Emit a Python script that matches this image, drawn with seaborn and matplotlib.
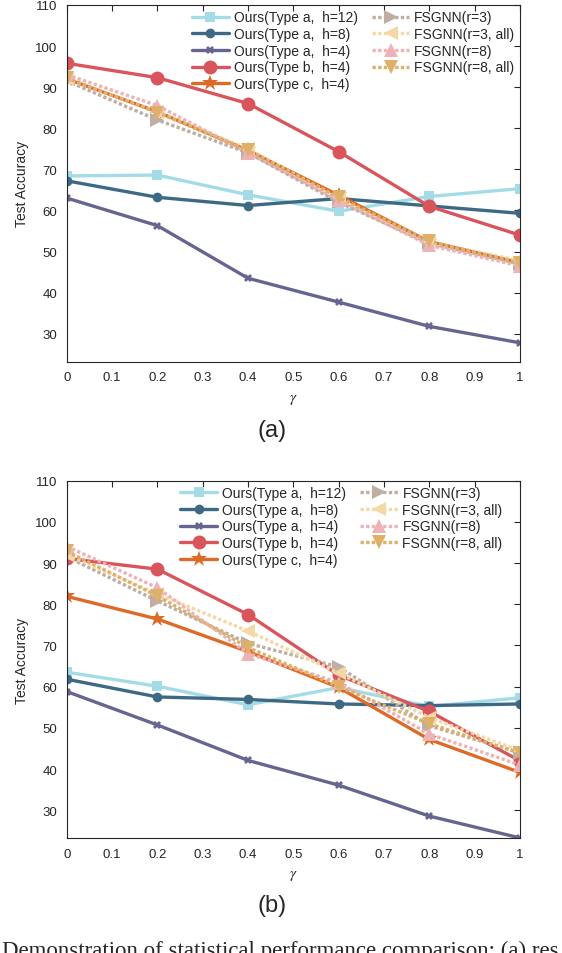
import numpy as np
import pandas as pd
import matplotlib
matplotlib.use("Agg")
import matplotlib.pyplot as plt
import seaborn as sns

# x values (gamma)
gamma = [0, 0.2, 0.4, 0.6, 0.8, 1.0]

labels = ["Ours(Type a,  h=12)", "Ours(Type a,  h=8)", "Ours(Type a,  h=4)",
          "Ours(Type b,  h=4)", "Ours(Type c,  h=4)",
          "FSGNN(r=3)", "FSGNN(r=3, all)", "FSGNN(r=8)", "FSGNN(r=8, all)"]

# panel (a)
a_type_a_h12 = [68.4, 68.6, 63.8, 59.8, 63.4, 65.3]
a_type_a_h8 = [67.2, 63.2, 61.2, 62.9, 61.1, 59.3]
a_type_a_h4 = [63.0, 56.3, 43.5, 37.7, 31.8, 27.8]
a_type_b_h4 = [95.8, 92.3, 86.0, 74.3, 61.0, 54.0]
a_type_c_h4 = [92.0, 84.0, 74.6, 63.7, 52.4, 47.3]
a_fs_r3 = [91.5, 82.0, 74.0, 62.0, 52.0, 47.0]
a_fs_r3_all = [92.0, 84.0, 75.0, 63.0, 52.3, 47.8]
a_fs_r8 = [93.0, 85.5, 74.0, 62.5, 51.5, 46.5]
a_fs_r8_all = [92.2, 83.8, 74.6, 63.2, 52.5, 47.2]

# panel (b)
b_type_a_h12 = [63.5, 60.1, 55.6, 59.8, 55.2, 57.3]
b_type_a_h8 = [61.8, 57.5, 56.9, 55.8, 55.4, 55.8]
b_type_a_h4 = [58.8, 50.7, 42.1, 36.1, 28.6, 23.3]
b_type_b_h4 = [91.1, 88.5, 77.5, 62.8, 54.0, 42.0]
b_type_c_h4 = [81.9, 76.4, 68.5, 59.8, 47.2, 39.2]
b_fs_r3 = [91.5, 80.8, 70.5, 64.8, 50.5, 44.0]
b_fs_r3_all = [92.0, 82.5, 73.5, 63.3, 52.5, 44.5]
b_fs_r8 = [94.0, 84.0, 68.0, 61.0, 48.5, 41.0]
b_fs_r8_all = [92.8, 82.0, 69.5, 60.0, 51.0, 43.9]

panel_a = [a_type_a_h12, a_type_a_h8, a_type_a_h4, a_type_b_h4, a_type_c_h4,
           a_fs_r3, a_fs_r3_all, a_fs_r8, a_fs_r8_all]
panel_b = [b_type_a_h12, b_type_a_h8, b_type_a_h4, b_type_b_h4, b_type_c_h4,
           b_fs_r3, b_fs_r3_all, b_fs_r8, b_fs_r8_all]

colors = ["#A3DCE7", "#3E6985", "#66658F", "#D9555B", "#DE6A28",
          "#BFAEA2", "#F4D8A6", "#EEB3B6", "#DFB06A"]
markers = ["s", "o", "X", "o", "*", ">", "<", "^", "v"]
msizes = [7, 7, 6, 10, 12, 10, 10, 10, 10]
styles = ["-"] * 5 + [(0, (1, 0.7))] * 4

sns.set_style("white")
plt.rcParams["font.family"] = ["Liberation Sans", "DejaVu Sans"]
plt.rcParams["mathtext.fontset"] = "stix"

fig = plt.figure(figsize=(5.62, 9.54), dpi=100)
ax_a = fig.add_axes([0.119, 0.6198, 0.806, 0.374])
ax_b = fig.add_axes([0.119, 0.1202, 0.806, 0.375])


def draw(ax, series, leg_anchor):
    for i, vals in enumerate(series):
        df = pd.DataFrame({"gamma": gamma, "acc": vals})
        sns.lineplot(data=df, x="gamma", y="acc", ax=ax, color=colors[i],
                     marker=markers[i], markersize=msizes[i], markeredgewidth=0,
                     linewidth=2.4, linestyle=styles[i], label=labels[i])
    ax.set_xlim(0, 1)
    ax.set_ylim(23.2, 110)
    ax.set_xticks(np.arange(0, 1.01, 0.1))
    ax.set_xticklabels(["0", "0.1", "0.2", "0.3", "0.4", "0.5", "0.6", "0.7", "0.8", "0.9", "1"])
    ax.set_yticks(range(30, 111, 10))
    ax.tick_params(direction="in", top=True, right=True, length=4, width=0.8,
                   labelsize=9.5, colors="#262626", pad=7)
    for sp in ax.spines.values():
        sp.set_color("#262626")
        sp.set_linewidth(0.8)
    ax.set_xlabel(r"$\gamma$", fontsize=11, color="#262626", labelpad=6)
    ax.set_ylabel("Test Accuracy", fontsize=10, color="#262626", labelpad=4)
    leg = ax.legend(loc="upper right", bbox_to_anchor=leg_anchor, ncol=2,
                    frameon=False, fontsize=10, handlelength=2.7,
                    handletextpad=0.35, columnspacing=1.0, labelspacing=0.19,
                    borderaxespad=0.0)
    return leg


draw(ax_a, panel_a, (1.0, 1.0))
draw(ax_b, panel_b, (0.974, 1.0))

fig.text(272 / 562, 1 - 431 / 954, "(a)", ha="center", va="center", fontsize=17)
fig.text(272 / 562, 1 - 906 / 954, "(b)", ha="center", va="center", fontsize=17)
fig.text(0.003, 1 - 941 / 954, "Demonstration of statistical performance comparison: (a) res",
         ha="left", va="top", fontsize=16.5, family=["Liberation Serif", "DejaVu Serif"])

fig.savefig("out.png", dpi=100)
